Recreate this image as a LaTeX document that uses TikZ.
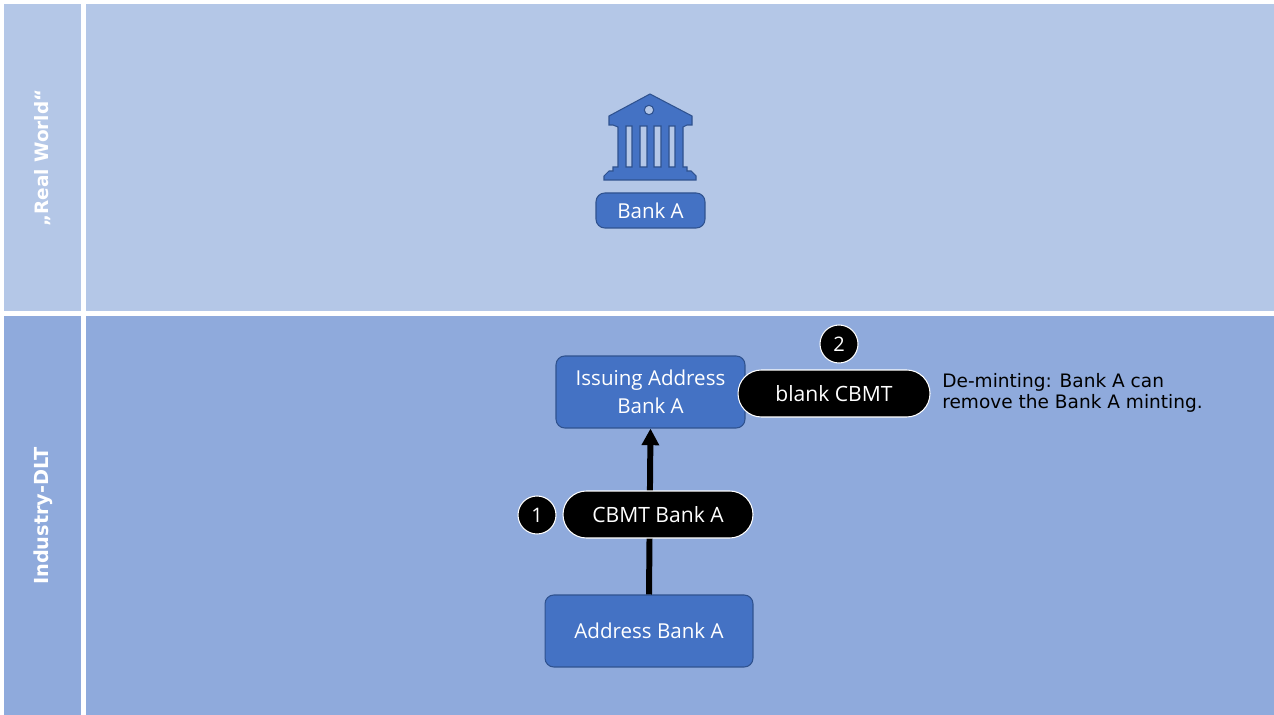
\documentclass[tikz,border=0pt]{standalone}
\usepackage{fontspec}
\setmainfont{Open Sans}
\newfontfamily\lanefont{DejaVu Sans}
\usetikzlibrary{arrows.meta}
\definecolor{laneTop}{HTML}{B4C7E7}
\definecolor{laneBottom}{HTML}{8FAADC}
\definecolor{boxFill}{HTML}{4472C4}
\definecolor{boxLine}{HTML}{2F528F}
\tikzset{
  lanebox/.style={fill=#1, draw=none},
  lanelabel/.style={rotate=90, text=white, font=\lanefont\bfseries\fontsize{#1}{13}\selectfont},
  bankbox/.style={draw=boxLine, fill=boxFill, line width=0.6pt, rounded corners=5pt, text=white, align=center, inner sep=0pt, font=\fontsize{11.7}{16}\selectfont},
  tokenpill/.style={draw=white, fill=black, line width=0.6pt, rounded corners=13.3pt, text=white, inner sep=0pt, font=\fontsize{12}{14}\selectfont},
  stepcircle/.style={circle, draw=white, fill=black, line width=0.6pt, text=white, minimum size=0.76cm, inner sep=0pt, font=\fontsize{11.4}{14}\selectfont},
  flowarrow/.style={line width=3.4pt, -{Triangle[length=9.5pt,width=9.5pt]}}
}
\begin{document}
\begin{tikzpicture}[x=0.02cm, y=-0.02cm]
\useasboundingbox (0,0) rectangle (1274,715);
\fill[white] (0,0) rectangle (1274,715);
% LANES
\fill[lanebox=laneTop] (4,4) rectangle (81,311);
\fill[lanebox=laneTop] (86,4) rectangle (1274,311);
\fill[lanebox=laneBottom] (4,316) rectangle (81,715);
\fill[lanebox=laneBottom] (86,316) rectangle (1274,715);
\node[lanelabel=10.5] (realWorld) at (43,158) {„Real World“};
\node[lanelabel=11] (industryDlt) at (43,516) {Industry-DLT};
% BANK ICON
\begin{scope}[shift={(650,0)}]
  \fill[boxFill, draw=boxLine, line width=0.6pt, even odd rule]
    (0,94) -- (42,116) -- (42,125) -- (37,125) -- (33,127) -- (33,167) -- (37,167) -- (37,171)
    -- (41,171) -- (46,176) -- (46,180) -- (-46,180) -- (-46,176) -- (-41,171) -- (-37,171) -- (-37,167)
    -- (-32,167) -- (-32,127) -- (-37,125) -- (-41,125) -- (-41,116) -- cycle
    (-24,126) rectangle (-18,167)
    (-10,126) rectangle (-3,167)
    (4,126) rectangle (11,167)
    (19,126) rectangle (25,167)
    (-1,110) circle[radius=4.7];
\end{scope}
% BANK A
\node[bankbox, minimum width=2.18cm, minimum height=0.7cm] (bankA) at (650.5,210.5) {Bank A};
% ADDRESSES
\node[bankbox, minimum width=3.78cm, minimum height=1.44cm] (issuingAddress) at (650.5,392) {Issuing Address\\Bank A};
\node[bankbox, minimum width=4.16cm, minimum height=1.44cm] (addressBank) at (649,631) {Address Bank A};
\draw[flowarrow] (addressBank.north) -- (issuingAddress.south);
% TOKENS
\node[tokenpill, minimum width=3.8cm, minimum height=0.94cm] (cbmtBank) at (658,514.5) {CBMT Bank A};
\node[tokenpill, minimum width=3.84cm, minimum height=0.94cm] (blankCbmt) at (834,393.5) {blank CBMT};
\node[stepcircle] (stepOne) at (537,515) {1};
\node[stepcircle] (stepTwo) at (839,344) {2};
% NOTE
\node[anchor=west, align=left, inner sep=0pt, font=\lanefont\fontsize{10.55}{12}\selectfont] (deminting) at (942,392.5) {De-minting: Bank A can\\remove the Bank A minting.};
\end{tikzpicture}
\end{document}
